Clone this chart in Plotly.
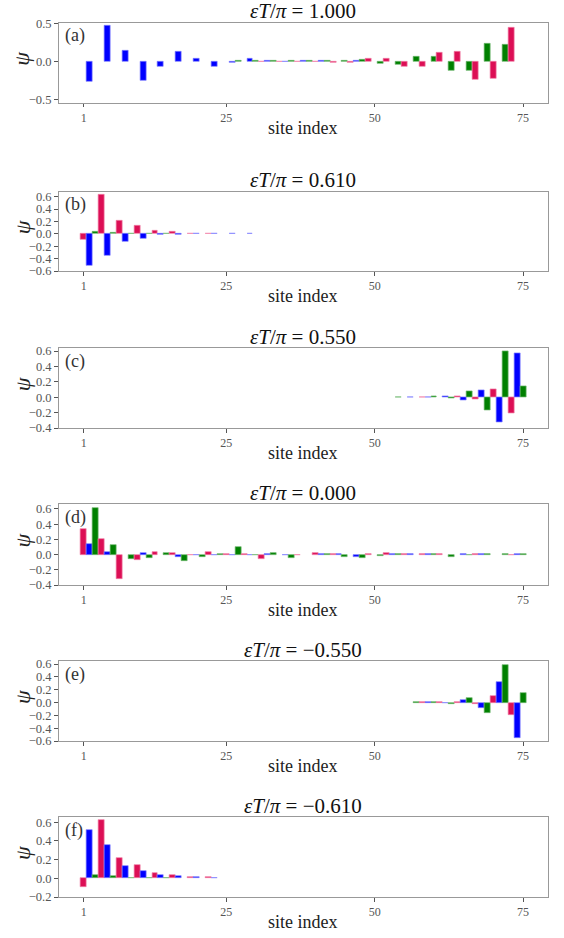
import plotly.graph_objects as go

sites = list(range(1, 76))

title_values = ["1.000", "0.610", "0.550", "0.000", "\u22120.550", "\u22120.610"]
panel_labels = ["(a)", "(b)", "(c)", "(d)", "(e)", "(f)"]
x_ticks = [1, 25, 50, 75]

psi_a = [0, -0.27, 0, 0, 0.465, 0, 0, 0.136, 0, 0,
         -0.25, 0, 0, -0.07, 0, 0, 0.127, 0, 0, 0.03,
         0, 0, -0.07, 0, 0, -0.018, 0.004, 0, 0.03, 0.005,
         -0.005, 0.004, 0.003, -0.004, -0.01, 0.005, -0.005, 0.004, 0.004, -0.006,
         0.004, 0.006, -0.012, 0, 0.008, -0.012, 0.005, 0.018, 0.03, 0,
         -0.03, 0.03, 0, -0.044, -0.07, 0, 0.057, -0.075, 0, 0.066,
         0.114, 0, -0.127, 0.123, 0, -0.127, -0.237, 0, 0.228, -0.228,
         0, 0.215, 0.44, 0, 0]

psi_b = [-0.093, -0.52, 0.033, 0.627, -0.36, 0.022, 0.218, -0.12, 0.004, 0.136,
         -0.071, 0.003, 0.049, -0.022, 0.002, 0.033, -0.01, 0, 0.01, -0.005,
         0, 0.004, -0.004, 0, 0, -0.003, 0, 0, -0.003, 0,
         0, 0, 0, 0, 0, 0, 0, 0, 0, 0,
         0, 0, 0, 0, 0, 0, 0, 0, 0, 0,
         0, 0, 0, 0, 0, 0, 0, 0, 0, 0,
         0, 0, 0, 0, 0, 0, 0, 0, 0, 0,
         0, 0, 0, 0, 0]

psi_c = [0, 0, 0, 0, 0, 0, 0, 0, 0, 0,
         0, 0, 0, 0, 0, 0, 0, 0, 0, 0,
         0, 0, 0, 0, 0, 0, 0, 0, 0, 0,
         0, 0, 0, 0, 0, 0, 0, 0, 0, 0,
         0, 0, 0, 0, 0, 0, 0, 0, 0, 0,
         0, 0, 0, 0.003, 0, 0.003, 0, 0.004, 0.004, 0.012,
         0, 0.012, -0.02, 0.012, -0.045, 0.082, -0.03, 0.09, -0.167, 0.1,
         -0.33, 0.6, -0.206, 0.566, 0.145]

psi_d = [0.336, 0.135, 0.614, 0.21, 0.04, 0.126, -0.327, 0, -0.058, -0.072,
         0.018, -0.045, 0.03, 0, 0.018, 0.018, -0.027, -0.08, -0.01, -0.01,
         -0.03, 0.04, -0.005, 0.004, 0.01, -0.005, 0.1, 0.003, -0.012, -0.01,
         -0.058, 0.005, 0.018, 0, -0.005, -0.04, -0.012, 0, 0, 0.018,
         0.01, 0.004, 0.004, 0.004, -0.027, 0, -0.027, -0.04, 0.004, 0,
         -0.018, 0.018, 0.01, 0.005, 0.004, 0.004, 0, 0.004, 0.004, 0.004,
         0.004, 0, -0.027, 0, 0.004, -0.01, 0.005, 0.004, 0.01, 0,
         0, 0.004, -0.012, 0.004, 0.012]

psi_e = [0, 0, 0, 0, 0, 0, 0, 0, 0, 0,
         0, 0, 0, 0, 0, 0, 0, 0, 0, 0,
         0, 0, 0, 0, 0, 0, 0, 0, 0, 0,
         0, 0, 0, 0, 0, 0, 0, 0, 0, 0,
         0, 0, 0, 0, 0, 0, 0, 0, 0, 0,
         0, 0, 0, 0, 0, 0, 0.004, 0.004, 0.004, 0.005,
         0.003, -0.008, -0.02, 0.015, 0.041, 0.078, -0.026, -0.088, -0.16, 0.104,
         0.316, 0.59, -0.187, -0.55, 0.145]

psi_f = [-0.09, 0.52, 0.036, 0.625, 0.36, 0.025, 0.22, 0.136, 0.006, 0.14,
         0.082, 0.005, 0.057, 0.036, 0.003, 0.036, 0.025, 0, 0.018, 0.01,
         0, 0.01, 0.003, 0, 0, 0, 0, 0, 0, 0,
         0, 0, 0, 0, 0, 0, 0, 0, 0, 0,
         0, 0, 0, 0, 0, 0, 0, 0, 0, 0,
         0, 0, 0, 0, 0, 0, 0, 0, 0, 0,
         0, 0, 0, 0, 0, 0, 0, 0, 0, 0,
         0, 0, 0, 0, 0]

panels = [psi_a, psi_b, psi_c, psi_d, psi_e, psi_f]

y_ranges = [[-0.545, 0.51], [-0.6, 0.68], [-0.4, 0.635],
            [-0.4, 0.665], [-0.6, 0.647], [-0.2, 0.657]]
y_tick_sets = [[-0.5, 0.0, 0.5],
               [-0.6, -0.4, -0.2, 0.0, 0.2, 0.4, 0.6],
               [-0.4, -0.2, 0.0, 0.2, 0.4, 0.6],
               [-0.4, -0.2, 0.0, 0.2, 0.4, 0.6],
               [-0.6, -0.4, -0.2, 0.0, 0.2, 0.4, 0.6],
               [-0.2, 0.0, 0.2, 0.4, 0.6]]

# layout geometry (pixels)
W, H = 564, 938
left_px, right_px = 58.5, 548.3
tops = [22.7, 191.7, 348.3, 504.0, 661.0, 817.0]
bots = [102.7, 271.0, 428.0, 585.0, 741.0, 897.0]

site_colors = {1: "#DC0F55", 2: "#0000FF", 0: "#008000"}
edge_colors = {1: "#F07FA6", 2: "#8080FF", 0: "#70B870"}

SERIF = "Liberation Serif"
fig = go.Figure()
annotations = []
layout = {}

for i, vals in enumerate(panels):
    n = i + 1
    xa = "x" if n == 1 else f"x{n}"
    ya = "y" if n == 1 else f"y{n}"
    fig.add_trace(go.Bar(
        x=sites, y=vals, width=1.0,
        marker=dict(color=[site_colors[s % 3] for s in sites],
                    line=dict(color=[edge_colors[s % 3] for s in sites],
                              width=[0.7 if v != 0 else 0 for v in vals])),
        xaxis=xa, yaxis=ya, showlegend=False, hoverinfo="x+y"))
    yd = [1 - bots[i] / H, 1 - tops[i] / H]
    layout[f"xaxis{n if n > 1 else ''}"] = dict(
        domain=[left_px / W, right_px / W], anchor=ya, automargin=False,
        range=[-3.25, 79.25], tickmode="array", tickvals=x_ticks,
        ticks="outside", ticklen=3.5, tickwidth=0.8, tickcolor="#555",
        showline=True, linecolor="#999", linewidth=1, mirror=True,
        showgrid=False, zeroline=False,
        tickfont=dict(family=SERIF, size=12, color="#555"))
    layout[f"yaxis{n if n > 1 else ''}"] = dict(
        domain=yd, anchor=xa, range=y_ranges[i], automargin=False,
        tickmode="array", tickvals=y_tick_sets[i], tickformat=".1f",
        ticks="outside", ticklen=3.5, tickwidth=0.8, tickcolor="#555",
        showline=True, linecolor="#999", linewidth=1, mirror=True,
        showgrid=False, zeroline=False,
        tickfont=dict(family=SERIF, size=12.5, color="#555"))
    cx = (left_px + right_px) / 2 / W
    annotations.append(dict(
        x=cx, y=1 - (tops[i] - 11.5) / H, xref="paper", yref="paper",
        text=f"<i>\u03b5T</i>/<i>\u03c0</i> = {title_values[i]}",
        showarrow=False, xanchor="center", yanchor="middle",
        font=dict(family=SERIF, size=21, color="#111")))
    annotations.append(dict(
        x=cx, y=1 - (bots[i] + 25) / H, xref="paper", yref="paper",
        text="site index", showarrow=False, xanchor="center", yanchor="middle",
        font=dict(family=SERIF, size=18, color="#222")))
    annotations.append(dict(
        x=22 / W, y=1 - ((tops[i] + bots[i]) / 2 - 4) / H, xref="paper", yref="paper",
        text="<i>\u03c8</i>", showarrow=False, xanchor="center", yanchor="middle",
        textangle=-90, font=dict(family=SERIF, size=22, color="#222")))
    annotations.append(dict(
        x=(left_px + 4) / W, y=1 - (tops[i] + 13) / H, xref="paper", yref="paper",
        text=panel_labels[i], showarrow=False, xanchor="left", yanchor="middle",
        font=dict(family=SERIF, size=18, color="#333")))

fig.update_layout(
    width=W, height=H, autosize=False,
    margin=dict(l=0, r=0, t=0, b=0, autoexpand=False),
    paper_bgcolor="white", plot_bgcolor="white",
    bargap=0, annotations=annotations, **layout)

fig.write_html("out.html", config={"displayModeBar": False},
               post_script="document.body.style.margin='0';document.body.style.padding='0';")
